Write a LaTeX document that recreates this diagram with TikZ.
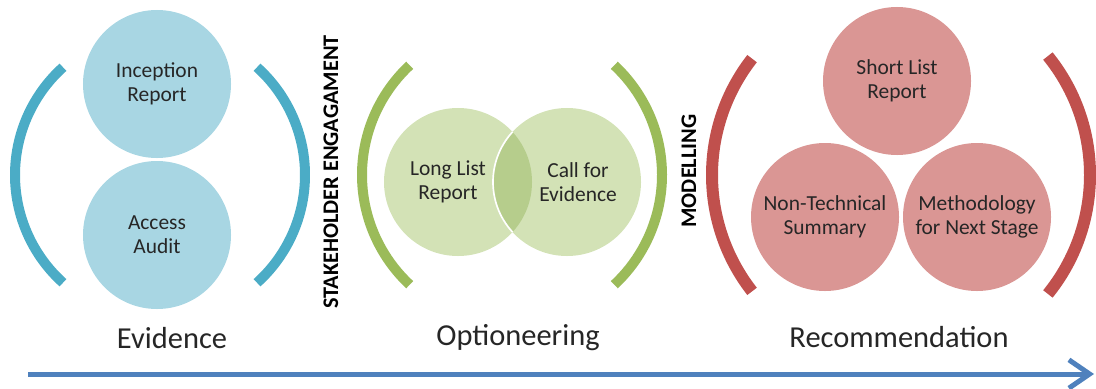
\documentclass[tikz,border=0pt]{standalone}
\usepackage{fontspec}
\setmainfont{Carlito}
\usepackage{xcolor}
\usetikzlibrary{arrows.meta}

\definecolor{evfill}{HTML}{A8D6E3}
\definecolor{evline}{HTML}{4BACC6}
\definecolor{opfill}{HTML}{D3E2B6}
\definecolor{opmix}{HTML}{B6CD8C}
\definecolor{opline}{HTML}{9BBB59}
\definecolor{refill}{HTML}{DA9694}
\definecolor{reline}{HTML}{C0504D}
\definecolor{flowline}{HTML}{4F81BD}
\definecolor{inktext}{HTML}{262626}

\begin{document}
\begin{tikzpicture}[x=0.03cm,y=-0.03cm,>=Stealth,
    bubble/.style={circle,minimum size=4.44cm,inner sep=0pt,align=center,
      text=inktext,font=\fontsize{18.3}{20.5}\selectfont},
    bubbletext/.style={text=inktext,align=center,font=\fontsize{18.3}{20.5}\selectfont},
    bracket/.style={line width=0.3cm},
    phase/.style={text=inktext,font=\fontsize{26}{30}\selectfont},
    sidenote/.style={rotate=90,text=black,font=\bfseries\fontsize{19}{19}\selectfont},
    flow/.style={draw=flowline,line width=0.15cm,-{Straight Barb[length=0.62cm,width=0.85cm]}}]
    \useasboundingbox (0,0) rectangle (1096,388);

    \node[bubble,fill=evfill] (incep) at (157,84) {Inception\\Report};
    \node[bubble,fill=evfill] (audit) at (157,235) {Access\\Audit};
    \draw[bracket,evline] ([shift={(132:145)}]160,175) arc[start angle=132,end angle=228,radius=145];
    \draw[bracket,evline] ([shift={(-48:145)}]160,175) arc[start angle=-48,end angle=48,radius=145];
    \node[phase] (evid) at (172,338) {Evidence};

    \node[sidenote] (stake) at (331,172) {STAKEHOLDER ENGAGAMENT};

    \node[bubble,fill=opfill] (longl) at (458,182) {};
    \node[bubble,fill=opfill] (callf) at (567,182) {};
    \begin{scope}
      \clip (458,182) circle (74);
      \fill[opmix] (567,182) circle (74);
      \draw[white,line width=0.05cm] (567,182) circle (74);
    \end{scope}
    \node[bubbletext] (longt) at (448,182) {Long List\\Report};
    \node[bubbletext] (callt) at (578,182) {Call for\\Evidence};
    \draw[bracket,opline] ([shift={(133:150)}]512,175) arc[start angle=133,end angle=227,radius=150];
    \draw[bracket,opline] ([shift={(-47:150)}]512,175) arc[start angle=-47,end angle=47,radius=150];
    \node[phase] (optio) at (518,338) {Optioneering};

    \node[sidenote] (model) at (689,171) {MODELLING};

    \node[bubble,fill=refill] (short) at (897,81) {Short List\\Report};
    \node[bubble,fill=refill] (nontech) at (825,217) {Non-Technical\\Summary};
    \node[bubble,fill=refill] (method) at (977,217) {Methodology\\for Next Stage};
    \draw[bracket,reline,line width=0.36cm] ([shift={(142:189)}]901,175) arc[start angle=142,end angle=218,radius=189];
    \draw[bracket,reline,line width=0.36cm] ([shift={(-39:189)}]901,175) arc[start angle=-39,end angle=39,radius=189];
    \node[phase] (recom) at (899,337) {Recommendation};

    \coordinate (tstart) at (28,374);
    \coordinate (tend) at (1094,374);
    \draw[flow] (tstart) -- (tend);
\end{tikzpicture}
\end{document}
